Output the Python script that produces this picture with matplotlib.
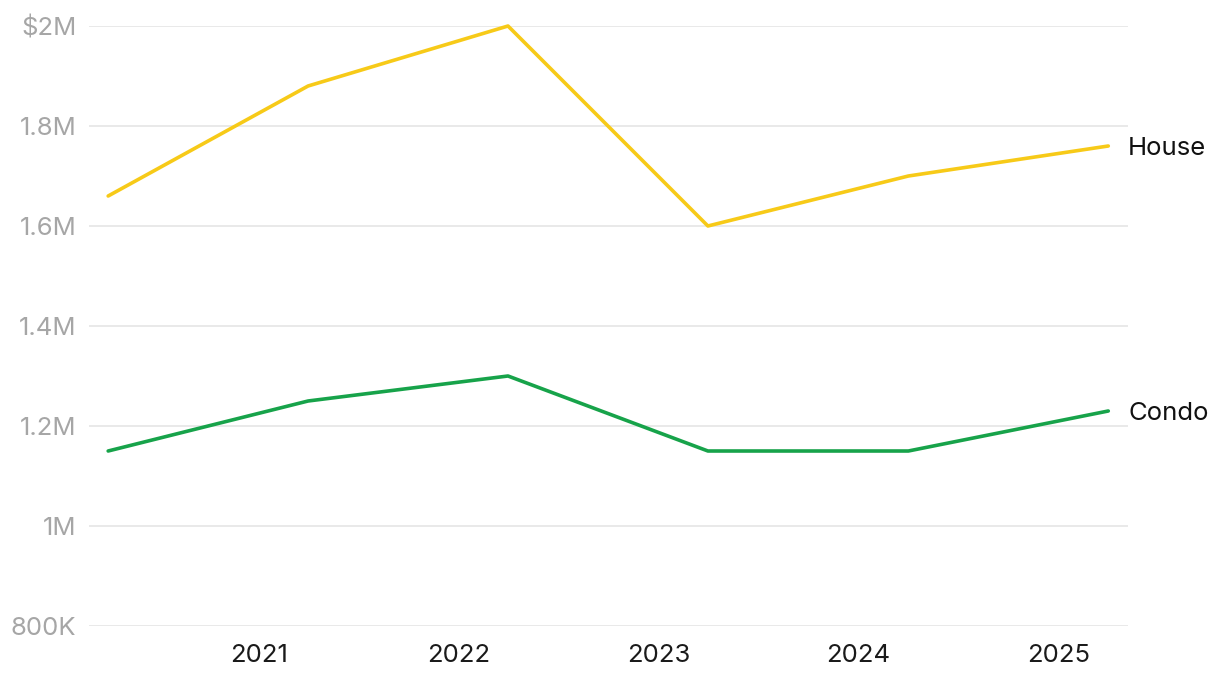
import matplotlib
matplotlib.use("Agg")
import matplotlib.pyplot as plt
import matplotlib.dates as mdates
import pandas as pd
from matplotlib.ticker import FuncFormatter

plt.rcParams["font.family"] = ["Inter", "DejaVu Sans"]

dates = pd.to_datetime(["2020-04-01", "2021-04-01", "2022-04-01",
                        "2023-04-01", "2024-04-01", "2025-04-01"])
house = [1_660_000, 1_880_000, 2_000_000, 1_600_000, 1_700_000, 1_760_000]
condo = [1_150_000, 1_250_000, 1_300_000, 1_150_000, 1_150_000, 1_230_000]
year_ticks = pd.to_datetime(["2021-01-01", "2022-01-01", "2023-01-01",
                             "2024-01-01", "2025-01-01"])
y_ticks = [800_000, 1_000_000, 1_200_000, 1_400_000, 1_600_000, 1_800_000, 2_000_000]


def money(v, pos):
    if v >= 1_000_000:
        s = f"{v / 1_000_000:g}M"
    else:
        s = f"{v / 1000:g}K"
    if v == y_ticks[-1]:
        s = "$" + s
    return s


def main():
    fig = plt.figure(figsize=(12.2, 6.8), dpi=100)
    ax = fig.add_axes([89 / 1220, 54 / 680, (1128 - 89) / 1220, 600 / 680])

    ax.plot(dates, house, color="#F7CA18", lw=2.6, clip_on=False,
            solid_joinstyle="round", solid_capstyle="round")
    ax.plot(dates, condo, color="#17A34A", lw=2.6, clip_on=False,
            solid_joinstyle="round", solid_capstyle="round")

    for name, vals in (("House", house), ("Condo", condo)):
        ax.annotate(name, xy=(1.0, vals[-1]), xycoords=ax.get_yaxis_transform(),
                    xytext=(0, -1.5), textcoords="offset points",
                    ha="left", va="center", fontsize=18.5, color="#111111")

    ax.set_ylim(800_000, 2_000_000)
    ax.set_yticks(y_ticks)
    ax.yaxis.set_major_formatter(FuncFormatter(money))
    ax.set_xlim(dates[0] - pd.Timedelta(days=35), dates[-1] + pd.Timedelta(days=36))
    ax.set_xticks(year_ticks)
    ax.xaxis.set_major_formatter(mdates.DateFormatter("%Y"))

    ax.grid(axis="y", color="#E5E5E5", lw=1.2)
    ax.set_axisbelow(True)
    for sp in ax.spines.values():
        sp.set_visible(False)
    ax.tick_params(axis="both", length=0)
    ax.tick_params(axis="y", labelsize=18.5, labelcolor="#A6A6A6", pad=9)
    ax.tick_params(axis="x", labelsize=18.5, labelcolor="#1A1A1A", pad=13)

    fig.savefig("out.png", dpi=100, facecolor="white")


if __name__ == "__main__":
    main()
